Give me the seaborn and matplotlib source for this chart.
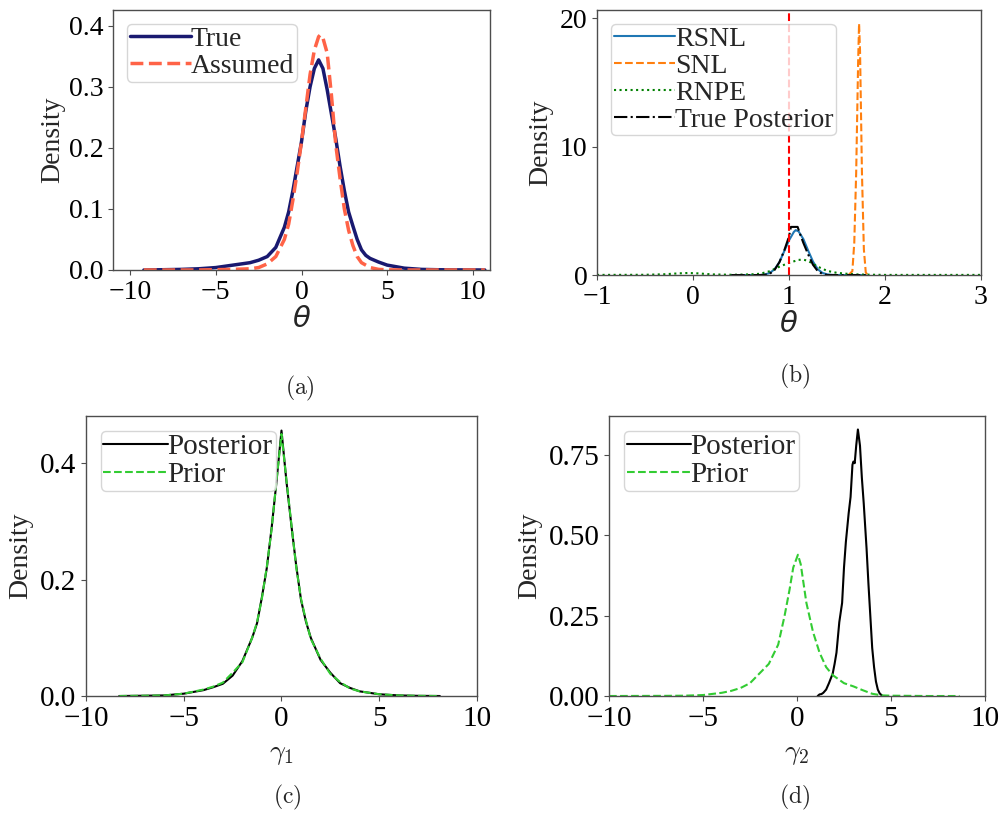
import numpy as np
import pandas as pd
import matplotlib
matplotlib.use("Agg")
import matplotlib.pyplot as plt
import seaborn as sns

# ---------------- data ----------------
# (a) true vs assumed density of theta
a_true_x = [-9.2, -8, -7, -6, -5, -4, -3.5, -3, -2.5, -2, -1.5, -1, -0.75, -0.5, -0.25, 0,
            0.25, 0.5, 0.75, 1.0, 1.25, 1.5, 1.75, 2.0, 2.25, 2.5, 2.75, 3.0, 3.25, 3.5,
            3.75, 4.0, 4.5, 5, 6, 7, 8, 9, 10.7]
a_true_y = [0, 0.0005, 0.001, 0.002, 0.004, 0.008, 0.010, 0.012, 0.016, 0.022, 0.037, 0.070,
            0.095, 0.130, 0.170, 0.210, 0.260, 0.300, 0.330, 0.344, 0.330, 0.295, 0.255,
            0.215, 0.170, 0.130, 0.095, 0.072, 0.050, 0.033, 0.024, 0.019, 0.013, 0.008,
            0.003, 0.001, 0.0004, 0.0002, 0]
a_assumed_x = [-9.2, -6, -5, -4, -3, -2.5, -2, -1.5, -1, -0.75, -0.5, -0.25, 0, 0.25, 0.5,
               0.75, 1.0, 1.1, 1.25, 1.5, 1.75, 2.0, 2.25, 2.5, 2.75, 3.0, 3.25, 3.5, 4.0,
               4.5, 5, 6, 10.7]
a_assumed_y = [0, 0, 0.0005, 0.001, 0.002, 0.004, 0.010, 0.022, 0.050, 0.075, 0.115, 0.160,
               0.210, 0.265, 0.320, 0.360, 0.382, 0.385, 0.380, 0.355, 0.285, 0.205, 0.150,
               0.100, 0.065, 0.040, 0.022, 0.012, 0.004, 0.001, 0.0003, 0, 0]

# (b) posterior densities of theta
b_rsnl_x = [0.4, 0.7, 0.75, 0.8, 0.85, 0.9, 0.95, 1.0, 1.05, 1.07, 1.1, 1.15, 1.2, 1.25,
            1.3, 1.35, 1.4, 1.45, 1.5, 1.8]
b_rsnl_y = [0, 0, 0.05, 0.16, 0.45, 1.0, 1.85, 2.7, 3.35, 3.5, 3.4, 2.8, 1.9, 1.05, 0.45,
            0.16, 0.05, 0.01, 0, 0]
b_snl_x = [1.62, 1.66, 1.68, 1.70, 1.72, 1.73, 1.74, 1.76, 1.78, 1.80, 1.82]
b_snl_y = [0, 0.3, 2.5, 8.0, 16.5, 19.6, 17.5, 8.0, 2.0, 0.2, 0]
b_rnpe_x = [-1.0, -0.5, -0.3, -0.15, -0.05, 0.05, 0.2, 0.4, 0.6, 0.7, 0.8, 0.9, 1.0, 1.1,
            1.15, 1.2, 1.3, 1.4, 1.5, 1.6, 1.7, 1.8, 2.0, 2.5, 3.0]
b_rnpe_y = [0.01, 0.02, 0.06, 0.13, 0.16, 0.13, 0.05, 0.02, 0.05, 0.10, 0.30, 0.65, 0.95,
            1.18, 1.20, 1.10, 0.65, 0.32, 0.17, 0.10, 0.05, 0.03, 0.01, 0.01, 0.01]
b_true_x = [0.4, 0.7, 0.75, 0.8, 0.85, 0.9, 0.95, 1.0, 1.02, 1.09, 1.12, 1.15, 1.2, 1.25,
            1.3, 1.35, 1.4, 1.8]
b_true_y = [0, 0, 0.02, 0.10, 0.40, 1.0, 1.9, 3.0, 3.75, 3.75, 3.1, 2.5, 1.6, 0.8, 0.3,
            0.08, 0, 0]
b_true_theta = 1.0

# (c) gamma_1 posterior and prior
c_post_x = [-8.3, -7, -6, -5, -4, -3.5, -3, -2.5, -2, -1.5, -1.25, -1, -0.75, -0.5, -0.25,
            0, 0.25, 0.5, 0.75, 1.0, 1.25, 1.5, 2.0, 2.5, 3.0, 3.5, 4, 5, 6, 7, 8.1]
c_post_y = [0, 0.0005, 0.001, 0.004, 0.010, 0.015, 0.021, 0.035, 0.060, 0.100, 0.125,
            0.170, 0.220, 0.290, 0.370, 0.456, 0.370, 0.295, 0.225, 0.165, 0.128, 0.100,
            0.062, 0.040, 0.022, 0.014, 0.008, 0.003, 0.001, 0.0003, 0]
c_prior_x = [-8.3, -7, -6, -5, -4, -3.5, -3, -2.5, -2, -1.5, -1.25, -1, -0.75, -0.5, -0.25,
             0, 0.25, 0.5, 0.75, 1.0, 1.25, 1.5, 2.0, 2.5, 3.0, 3.5, 4, 5, 6, 7, 8.1]
c_prior_y = [0, 0.0005, 0.001, 0.004, 0.011, 0.016, 0.023, 0.040, 0.058, 0.100, 0.127,
             0.168, 0.222, 0.288, 0.372, 0.450, 0.372, 0.297, 0.222, 0.167, 0.130, 0.098,
             0.064, 0.038, 0.024, 0.013, 0.008, 0.003, 0.001, 0.0003, 0]

# (d) gamma_2 posterior and prior
d_post_x = [1.1, 1.2, 1.3, 1.4, 1.55, 1.7, 1.9, 2.0, 2.1, 2.25, 2.4, 2.5, 2.6, 2.75, 2.85,
            2.95, 3.0, 3.07, 3.15, 3.24, 3.35, 3.45, 3.55, 3.7, 3.8, 3.9, 4.0, 4.1, 4.2,
            4.3, 4.4, 4.55]
d_post_y = [0, 0.005, 0.006, 0.010, 0.020, 0.040, 0.070, 0.100, 0.135, 0.230, 0.290, 0.400,
            0.480, 0.570, 0.620, 0.720, 0.730, 0.725, 0.780, 0.830, 0.780, 0.680, 0.600,
            0.460, 0.350, 0.250, 0.150, 0.090, 0.045, 0.020, 0.008, 0]
d_prior_x = [-10, -7, -6, -5, -4, -3.5, -3, -2.5, -2, -1.5, -1, -0.66, -0.4, -0.2, 0.05,
             0.2, 0.5, 0.85, 1.2, 1.55, 1.9, 2.5, 3.0, 3.5, 4.0, 4.5, 5, 6, 7, 8.65]
d_prior_y = [0, 0.0005, 0.001, 0.003, 0.010, 0.016, 0.025, 0.040, 0.070, 0.100, 0.160,
             0.250, 0.330, 0.400, 0.440, 0.410, 0.290, 0.200, 0.135, 0.090, 0.065, 0.040,
             0.030, 0.018, 0.007, 0.002, 0.001, 0.0005, 0, 0]

# ---------------- style ----------------
sns.set_style("ticks")
plt.rcParams["font.family"] = ["Liberation Serif", "DejaVu Serif"]
plt.rcParams["axes.edgecolor"] = "0.3"
plt.rcParams["xtick.color"] = "0.3"
plt.rcParams["ytick.color"] = "0.3"
plt.rcParams["xtick.labelcolor"] = "black"
plt.rcParams["ytick.labelcolor"] = "black"
plt.rcParams["axes.unicode_minus"] = True

fig = plt.figure(figsize=(10.01, 8.13), dpi=100)

ax_a = fig.add_axes([0.1129, 0.6679, 0.3766, 0.3198])
ax_b = fig.add_axes([0.5964, 0.6617, 0.3836, 0.3260])
ax_c = fig.add_axes([0.0859, 0.1439, 0.3906, 0.3444])
ax_d = fig.add_axes([0.6084, 0.1439, 0.3756, 0.3444])


def legend_kw(fs):
    return dict(loc="upper left", fontsize=fs, borderpad=0.1, handletextpad=0.0,
                handlelength=2.2, labelspacing=0.05, borderaxespad=0.5)


# (a)
sns.lineplot(x=a_true_x, y=a_true_y, ax=ax_a, color="#191970", lw=2.5, label="True", sort=False)
sns.lineplot(x=a_assumed_x, y=a_assumed_y, ax=ax_a, color="#ff6347", lw=2.5,
             linestyle="--", label="Assumed", sort=False)
ax_a.set_xlim(-11, 11)
ax_a.set_ylim(0, 0.4257)
ax_a.set_xticks([-10, -5, 0, 5, 10])
ax_a.set_yticks([0.0, 0.1, 0.2, 0.3, 0.4])
ax_a.set_yticklabels(["0.0", "0.1", "0.2", "0.3", "0.4"])
ax_a.legend(**legend_kw(20))

# (b)
sns.lineplot(x=b_rsnl_x, y=b_rsnl_y, ax=ax_b, color="#1f77b4", lw=1.5, label="RSNL", sort=False)
sns.lineplot(x=b_snl_x, y=b_snl_y, ax=ax_b, color="#ff7f0e", lw=1.5, linestyle="--",
             label="SNL", sort=False)
sns.lineplot(x=b_rnpe_x, y=b_rnpe_y, ax=ax_b, color="green", lw=1.5, linestyle=":",
             label="RNPE", sort=False)
sns.lineplot(x=b_true_x, y=b_true_y, ax=ax_b, color="black", lw=1.5, linestyle="-.",
             label="True Posterior", sort=False)
ax_b.axvline(b_true_theta, color="red", lw=1.5, linestyle="--")
ax_b.set_xlim(-1, 3)
ax_b.set_ylim(0, 20.65)
ax_b.set_xticks([-1, 0, 1, 2, 3])
ax_b.set_yticks([0, 10, 20])
ax_b.legend(**legend_kw(20))

# (c)
sns.lineplot(x=c_post_x, y=c_post_y, ax=ax_c, color="black", lw=1.5, label="Posterior", sort=False)
sns.lineplot(x=c_prior_x, y=c_prior_y, ax=ax_c, color="#33cc33", lw=1.5, linestyle="--",
             label="Prior", sort=False)
ax_c.set_xlim(-10, 10)
ax_c.set_ylim(0, 0.481)
ax_c.set_xticks([-10, -5, 0, 5, 10])
ax_c.set_yticks([0.0, 0.2, 0.4])
ax_c.set_yticklabels(["0.0", "0.2", "0.4"])
ax_c.legend(**legend_kw(21))

# (d)
sns.lineplot(x=d_post_x, y=d_post_y, ax=ax_d, color="black", lw=1.5, label="Posterior", sort=False)
sns.lineplot(x=d_prior_x, y=d_prior_y, ax=ax_d, color="#33cc33", lw=1.5, linestyle="--",
             label="Prior", sort=False)
ax_d.set_xlim(-10, 10)
ax_d.set_ylim(0, 0.872)
ax_d.set_xticks([-10, -5, 0, 5, 10])
ax_d.set_yticks([0.0, 0.25, 0.5, 0.75])
ax_d.set_yticklabels(["0.00", "0.25", "0.50", "0.75"])
ax_d.legend(**legend_kw(21))

for ax, fs in ((ax_a, 20), (ax_b, 20), (ax_c, 21), (ax_d, 21)):
    ax.tick_params(labelsize=fs, length=3.5, width=0.8)
    for s in ax.spines.values():
        s.set_linewidth(1.0)
    ax.set_ylabel("Density", fontsize=20)

ax_a.set_xlabel(r"$\theta$", fontsize=21)
ax_b.set_xlabel(r"$\theta$", fontsize=21)
ax_c.set_xlabel(r"$\gamma_1$", fontsize=20, math_fontfamily="cm")
ax_d.set_xlabel(r"$\gamma_2$", fontsize=20, math_fontfamily="cm")

ax_a.xaxis.set_label_coords(0.5, -0.142)
ax_b.xaxis.set_label_coords(0.5, -0.138)
ax_c.xaxis.set_label_coords(0.5, -0.163)
ax_d.xaxis.set_label_coords(0.5, -0.163)
ax_a.yaxis.set_label_coords(-0.127, 0.5)
ax_b.yaxis.set_label_coords(-0.115, 0.5)
ax_c.yaxis.set_label_coords(-0.136, 0.5)
ax_d.yaxis.set_label_coords(-0.179, 0.5)

# captions
cap_kw = dict(fontsize=17, math_fontfamily="cm", ha="center", va="center")
fig.text(300 / 1001, 1 - 388 / 813, r"$\mathrm{(a)}$", **cap_kw)
fig.text(795 / 1001, 1 - 376 / 813, r"$\mathrm{(b)}$", **cap_kw)
fig.text(287 / 1001, 1 - 797 / 813, r"$\mathrm{(c)}$", **cap_kw)
fig.text(795 / 1001, 1 - 797 / 813, r"$\mathrm{(d)}$", **cap_kw)

fig.savefig("out.png", dpi=100, facecolor="white")
